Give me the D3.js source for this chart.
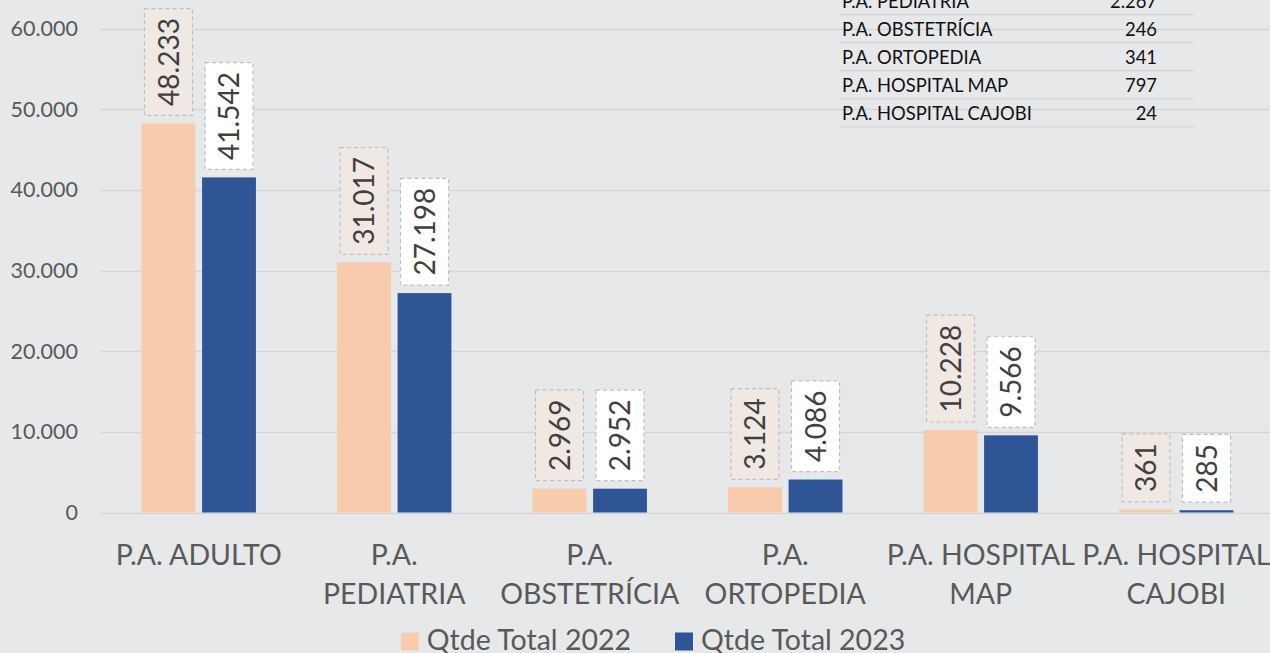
<!DOCTYPE html>
<html>
<head>
<meta charset="utf-8">
<script src="https://cdn.jsdelivr.net/npm/d3@7"></script>
<style>
  html, body { margin: 0; padding: 0; background: #e7e8ea; }
  svg { display: block; font-family: Lato, 'Open Sans', sans-serif; }
</style>
</head>
<body>
<svg id="chart" width="1270" height="653"></svg>
<script>
let categories = ['P.A. ADULTO', 'P.A. PEDIATRIA', 'P.A. OBSTETRÍCIA', 'P.A. ORTOPEDIA', 'P.A. HOSPITAL MAP', 'P.A. HOSPITAL CAJOBI'];
let seriesNames = ['Qtde Total 2022', 'Qtde Total 2023'];
let values2022 = [48233, 31017, 2969, 3124, 10228, 361];
let values2023 = [41542, 27198, 2952, 4086, 9566, 285];
let yTicks = [0, 10000, 20000, 30000, 40000, 50000, 60000];

// small table in the top right corner (its first rows are cut off above)
let tableNames = ['P.A. PEDIATRIA', 'P.A. OBSTETRÍCIA', 'P.A. ORTOPEDIA', 'P.A. HOSPITAL MAP', 'P.A. HOSPITAL CAJOBI'];
let tableValues = [2267, 246, 341, 797, 24];

(function() {
  let svg = d3.select('#chart');
  let ptBR = d3.formatLocale({ decimal: ',', thousands: '.', grouping: [3], currency: ['R$', ''] });
  let fmt = ptBR.format(',d');

  let colors = ['#f8cbad', '#2f5597'];
  let boxFill = ['#efe8e3', '#ffffff'];

  let x = d3.scaleBand()
    .domain(categories)
    .range([101, 1274])
    .paddingInner(0.415)
    .paddingOuter(0.2075);
  let xs = d3.scaleBand()
    .domain(seriesNames)
    .range([0, x.bandwidth()])
    .paddingInner(0.11);
  let y = d3.scaleLinear()
    .domain([0, 60000])
    .range([512.5, 28.5]);

  let rows = [];
  categories.forEach((c, i) => {
    rows.push({ cat: c, s: 0, v: values2022[i] });
    rows.push({ cat: c, s: 1, v: values2023[i] });
  });

  svg.append('rect')
    .attr('width', 1270).attr('height', 653)
    .attr('fill', '#e7e8ea');

  //
  // Grid + y axis labels
  //
  let grid = svg.append('g').attr('class', 'grid');
  grid.selectAll('line').data(yTicks).enter().append('line')
    .attr('x1', 101).attr('x2', 1270)
    .attr('y1', (d) => Math.round(y(d)) + 0.5)
    .attr('y2', (d) => Math.round(y(d)) + 0.5)
    .attr('stroke', '#d4d5d7')
    .attr('stroke-width', 1.5);

  let yAxis = svg.append('g')
    .attr('transform', 'translate(101,0)')
    .call(d3.axisLeft(y).tickValues(yTicks).tickFormat(fmt).tickSize(0).tickPadding(23));
  yAxis.select('.domain').remove();
  yAxis.selectAll('text')
    .attr('font-family', 'Lato, sans-serif')
    .attr('font-size', 21.5)
    .attr('fill', '#595959');

  //
  // Table
  //
  let table = svg.append('g').attr('class', 'table');
  let tRow = table.selectAll('g').data(tableNames).enter().append('g')
    .attr('transform', (d, i) => `translate(0, ${8 + i * 28.1})`);
  tRow.append('text')
    .attr('x', 842)
    .attr('font-size', 18.4)
    .attr('fill', '#111')
    .text((d) => d);
  tRow.append('text')
    .attr('x', 1157)
    .attr('text-anchor', 'end')
    .attr('font-size', 18.4)
    .attr('fill', '#111')
    .text((d, i) => fmt(tableValues[i]));
  tRow.append('line')
    .attr('x1', 840).attr('x2', 1194)
    .attr('y1', 6.5).attr('y2', 6.5)
    .attr('stroke', '#cfd0d2')
    .attr('stroke-width', 1);

  //
  // Bars
  //
  let barX = (d) => x(d.cat) + xs(seriesNames[d.s]);
  svg.append('g').attr('class', 'bars')
    .selectAll('rect').data(rows).enter().append('rect')
    .attr('x', barX)
    .attr('width', xs.bandwidth())
    .attr('y', (d) => y(d.v))
    .attr('height', (d) => y(0) - y(d.v))
    .attr('fill', (d) => colors[d.s]);

  //
  // Data labels, rotated, in dashed boxes
  //
  let lab = svg.append('g').attr('class', 'labels')
    .selectAll('g').data(rows).enter().append('g');
  lab.append('rect');
  let txt = lab.append('text')
    .attr('text-anchor', 'middle')
    .attr('dy', '0.36em')
    .attr('font-size', 28)
    .attr('fill', '#404040')
    .text((d) => fmt(d.v));

  txt.each(function(d) {
    let len = this.getComputedTextLength();
    let h = len + 19;
    let cx = barX(d) + xs.bandwidth() / 2;
    let bottom = y(d.v) - 8;
    d3.select(this)
      .attr('transform', `translate(${cx}, ${bottom - h / 2}) rotate(-90)`);
    d3.select(this.parentNode).select('rect')
      .attr('x', cx - 24).attr('width', 48)
      .attr('y', bottom - h).attr('height', h)
      .attr('fill', boxFill[d.s])
      .attr('stroke', '#bfbfbf')
      .attr('stroke-width', 1.2)
      .attr('stroke-dasharray', '4 3');
  });

  //
  // Category labels (wrapped to band width)
  //
  let catG = svg.append('g').attr('class', 'cats')
    .selectAll('text').data(categories).enter().append('text')
    .attr('x', (d) => x(d) + x.bandwidth() / 2)
    .attr('y', 565)
    .attr('text-anchor', 'middle')
    .attr('font-size', 28.5)
    .attr('fill', '#595959');

  catG.each(function(d) {
    let el = d3.select(this);
    let words = d.split(' ');
    let lines = [];
    let line = [];
    let tspan = el.append('tspan');
    words.forEach((w) => {
      line.push(w);
      tspan.text(line.join(' '));
      if (tspan.node().getComputedTextLength() > x.step() - 2 && line.length > 1) {
        line.pop();
        lines.push(line.join(' '));
        line = [w];
      }
    });
    lines.push(line.join(' '));
    tspan.remove();
    lines.forEach((l, i) => {
      el.append('tspan')
        .attr('x', x(d) + x.bandwidth() / 2)
        .attr('dy', i === 0 ? 0 : 38.5)
        .text(l);
    });
  });

  //
  // Legend
  //
  let legend = svg.append('g').attr('class', 'legend');
  let items = legend.selectAll('g').data(seriesNames).enter().append('g');
  items.append('rect')
    .attr('width', 18).attr('height', 18)
    .attr('y', 632.5)
    .attr('fill', (d, i) => colors[i]);
  items.append('text')
    .attr('x', 26)
    .attr('y', 650)
    .attr('font-size', 28.5)
    .attr('fill', '#595959')
    .text((d) => d);

  let widths = [];
  items.each(function() { widths.push(this.getBBox().width); });
  let gap = 44;
  let total = d3.sum(widths) + gap * (widths.length - 1);
  let lx = 653 - total / 2;
  items.attr('transform', (d, i) => {
    let t = `translate(${lx}, 0)`;
    lx += widths[i] + gap;
    return t;
  });
})();
</script>
</body>
</html>
